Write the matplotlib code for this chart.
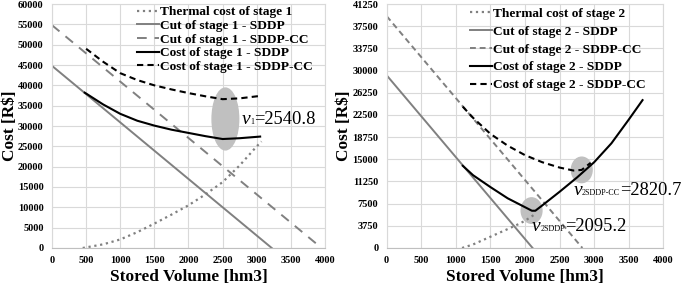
import matplotlib
matplotlib.use('Agg')
import matplotlib.pyplot as plt
from matplotlib.patches import Ellipse
from matplotlib.offsetbox import TextArea, HPacker, AnnotationBbox
import numpy as np

plt.rcParams['font.family'] = ['Liberation Serif', 'DejaVu Serif']

# ---- stage 1 data ----
s1_thermal_x = [450, 750, 1000, 1250, 1500, 1750, 2000, 2250, 2500, 2750, 3000, 3070]
s1_thermal_y = [0, 900, 2100, 3900, 6000, 8200, 10500, 13200, 16200, 20300, 25000, 26200]
s1_cut_sddp_x = [0, 3220]
s1_cut_sddp_y = [44800, 0]
s1_cut_cc_x = [0, 3950]
s1_cut_cc_y = [54800, 0]
s1_cost_sddp_x = [480, 750, 1000, 1250, 1500, 1750, 2000, 2250, 2500, 2750, 3050]
s1_cost_sddp_y = [38200, 35300, 33000, 31300, 30100, 29100, 28300, 27500, 26800, 27000, 27400]
s1_cost_cc_x = [500, 750, 1000, 1250, 1500, 1750, 2000, 2250, 2500, 2750, 3050]
s1_cost_cc_y = [49000, 45800, 43000, 41300, 40000, 39000, 38100, 37300, 36600, 36800, 37400]
v1 = 2540.8

# ---- stage 2 data ----
s2_thermal_x = [1090, 1250, 1500, 1750, 1900, 2000, 2130]
s2_thermal_y = [0, 600, 1900, 3200, 4000, 4600, 5600]
s2_cut_sddp_x = [0, 2110]
s2_cut_sddp_y = [29200, 0]
s2_cut_cc_x = [0, 2830]
s2_cut_cc_y = [39200, 0]
s2_cost_sddp_x = [1100, 1250, 1500, 1750, 2000, 2100, 2150, 2250, 2500, 2750, 3000, 3250, 3500, 3700]
s2_cost_sddp_y = [13900, 12300, 10300, 8400, 6900, 6300, 6300, 7200, 9500, 11900, 14500, 17700, 21700, 25000]
s2_cost_cc_x = [1100, 1250, 1500, 1750, 2000, 2250, 2500, 2700, 2820, 2950]
s2_cost_cc_y = [23900, 22000, 19300, 17300, 15700, 14500, 13600, 13100, 13200, 14400]
v2_sddp = 2095.2
v2_cc = 2820.7

GRAY = '#808080'
GRID = '#d9d9d9'
ELL = '#c0c0c0'

fig = plt.figure(figsize=(6.85, 2.84), dpi=100)
ax1 = fig.add_axes([0.0759, 0.1268, 0.3985, 0.859])
ax2 = fig.add_axes([0.5645, 0.1268, 0.4038, 0.859])


def style(ax, ymax, ystep):
    ax.set_xlim(0, 4000)
    ax.set_ylim(0, ymax)
    ax.set_xticks(np.arange(0, 4001, 500))
    ax.set_yticks(np.arange(0, ymax + 1, ystep))
    ax.grid(True, color=GRID, linewidth=0.8)
    ax.set_axisbelow(True)
    for s in ax.spines.values():
        s.set_color(GRID)
    ax.spines['bottom'].set_color('#bfbfbf')
    ax.tick_params(length=0, labelsize=7.5, pad=6)
    for lab in ax.get_xticklabels() + ax.get_yticklabels():
        lab.set_fontweight('bold')
    ax.set_xlabel('Stored Volume [hm3]', fontsize=12.4, fontweight='bold', labelpad=2.5)
    ax.set_ylabel('Cost [R$]', fontsize=12.4, fontweight='bold', labelpad=0)


def vlabel(ax, x, y, sub, value):
    parts = [TextArea('v', textprops=dict(fontsize=14, fontstyle='italic')),
             TextArea(sub, textprops=dict(fontsize=5.8)),
             TextArea('=%.1f' % value, textprops=dict(fontsize=13.3))]
    box = HPacker(children=parts, align='baseline', pad=0, sep=0)
    ab = AnnotationBbox(box, (x, y), box_alignment=(0, 0.5), frameon=False, pad=0)
    ax.add_artist(ab)


def add_legend(ax, anchor_x, spacing, bpad):
    ax.legend(loc='upper left', bbox_to_anchor=(anchor_x, 1.0), frameon=False,
              prop={'weight': 'bold', 'size': 9.6}, handlelength=1.6, handletextpad=0.1,
              labelspacing=spacing, borderaxespad=0, borderpad=bpad)


# stage 1
style(ax1, 60000, 5000)
ax1.plot(s1_thermal_x, s1_thermal_y, ':', color=GRAY, lw=1.6, label='Thermal cost of stage 1')
ax1.plot(s1_cut_sddp_x, s1_cut_sddp_y, '-', color=GRAY, lw=1.4, label='Cut of stage 1 - SDDP')
ax1.plot(s1_cut_cc_x, s1_cut_cc_y, '--', color=GRAY, lw=1.4, dashes=(5, 4), label='Cut of stage 1 - SDDP-CC')
ax1.plot(s1_cost_sddp_x, s1_cost_sddp_y, '-', color='black', lw=1.5, label='Cost of stage 1 - SDDP')
ax1.plot(s1_cost_cc_x, s1_cost_cc_y, '--', color='black', lw=1.5, dashes=(3, 2), label='Cost of stage 1 - SDDP-CC')
yc = (np.interp(v1, s1_cost_sddp_x, s1_cost_sddp_y) + np.interp(v1, s1_cost_cc_x, s1_cost_cc_y)) / 2
ax1.add_patch(Ellipse((v1, yc), 390, 15200, color=ELL, zorder=1.5))
vlabel(ax1, 2780, 31650, '1', v1)
add_legend(ax1, 0.305, 0.1, 0.15)

# stage 2
style(ax2, 41250, 3750)
ax2.plot(s2_thermal_x, s2_thermal_y, ':', color=GRAY, lw=1.6, label='Thermal cost of stage 2')
ax2.plot(s2_cut_sddp_x, s2_cut_sddp_y, '-', color=GRAY, lw=1.4, label='Cut of stage 2 - SDDP')
ax2.plot(s2_cut_cc_x, s2_cut_cc_y, '--', color=GRAY, lw=1.4, dashes=(3, 2), label='Cut of stage 2 - SDDP-CC')
ax2.plot(s2_cost_sddp_x, s2_cost_sddp_y, '-', color='black', lw=1.5, label='Cost of stage 2 - SDDP')
ax2.plot(s2_cost_cc_x, s2_cost_cc_y, '--', color='black', lw=1.5, dashes=(3, 2), label='Cost of stage 2 - SDDP-CC')
for v, xs, ys in [(v2_sddp, s2_cost_sddp_x, s2_cost_sddp_y), (v2_cc, s2_cost_cc_x, s2_cost_cc_y)]:
    ax2.add_patch(Ellipse((v, np.interp(v, xs, ys)), 300, 4300, color=ELL, zorder=1.5))
vlabel(ax2, 2097, 3600, '2SDDP', v2_sddp)
vlabel(ax2, 2700, 9800, '2SDDP-CC', v2_cc)
add_legend(ax2, 0.29, 0.42, 0.25)

fig.savefig('out.png', dpi=100)
